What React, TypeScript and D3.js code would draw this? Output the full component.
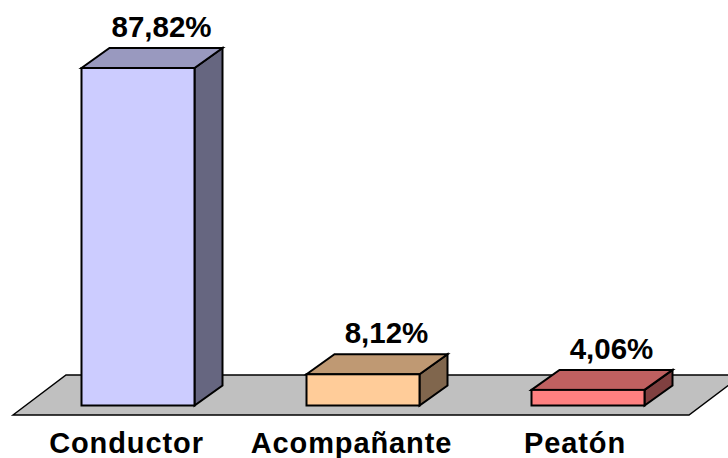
import React from "react";
import * as d3 from "d3";

const categories = ["Conductor", "Acompañante", "Peatón"];
const values = [87.82, 8.12, 4.06];
const valueLabels = ["87,82%", "8,12%", "4,06%"];
const frontColors = ["#ccccff", "#ffcc99", "#ff8080"];

const W = 728, H = 458;
const DX = 28, DY = -20;

export default function App() {
  const x = d3.scaleBand<string>().domain(categories).range([25.5, 700.5]).paddingInner(0).paddingOuter(0);
  const y = d3.scaleLinear().domain([0, 87.82]).range([405.5, 68]);
  const barW = 113;
  const floorPath = d3.line()([[13, 415], [66, 375], [742, 375], [689, 415]]) + "Z";
  const darker = (c: string, k: number) => {
    const r = d3.rgb(c);
    return d3.rgb(r.r * k, r.g * k, r.b * k).formatHex();
  };
  const stroke = { stroke: "#000", strokeWidth: 2, strokeLinejoin: "miter" as const };
  const font = "'Liberation Sans', Arial, sans-serif";
  return (
    <svg width={W} height={H} viewBox={`0 0 ${W} ${H}`} style={{ position: "absolute", left: 0, top: 0, background: "#fff" }}>
      <path d={floorPath} fill="#c0c0c0" stroke="#000" strokeWidth={1.5} />
      {categories.map((c, i) => {
        const cx = x(c)! + x.bandwidth() / 2;
        const x0 = cx - barW / 2, x1 = cx + barW / 2;
        const yb = y(0), yt = y(values[i]);
        const top = d3.line()([[x0, yt], [x0 + DX, yt + DY], [x1 + DX, yt + DY], [x1, yt]]) + "Z";
        const side = d3.line()([[x1, yt], [x1 + DX, yt + DY], [x1 + DX, yb + DY], [x1, yb]]) + "Z";
        return (
          <g key={c}>
            <path d={side} fill={darker(frontColors[i], 0.5)} {...stroke} />
            <path d={top} fill={darker(frontColors[i], 0.75)} {...stroke} />
            <rect x={x0} y={yt} width={barW} height={yb - yt} fill={frontColors[i]} {...stroke} />
            <text x={cx + 23.5} y={yt + DY - 11} textAnchor="middle" fontFamily={font} fontWeight="bold" fontSize={29.5} fill="#000">
              {valueLabels[i]}
            </text>
            <text x={cx + [-11.5, -11.5, -13][i]} y={452.5} textAnchor="middle" fontFamily={font} fontWeight="bold" fontSize={29} letterSpacing={0.9} fill="#000">
              {c}
            </text>
          </g>
        );
      })}
    </svg>
  );
}
